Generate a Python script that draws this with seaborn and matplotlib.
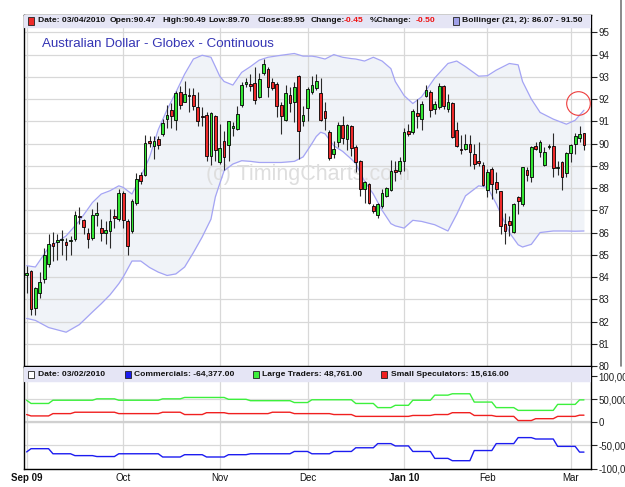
import numpy as np
import pandas as pd
import seaborn as sns
import matplotlib.pyplot as plt
from matplotlib.patches import Rectangle
from matplotlib.lines import Line2D

# daily bars, Australian Dollar (Globex), 01 Sep 2009 .. 04 Mar 2010
opens = [84.07, 84.29, 82.61, 83.29, 83.90, 84.58, 85.52, 85.59, 85.68, 85.59,
         85.62, 85.73, 86.72, 86.58, 85.98, 85.74, 86.79, 86.19, 85.98, 86.07,
         86.73, 86.60, 87.77, 86.52, 86.07, 87.33, 88.60, 88.60, 90.11, 89.91,
         90.19, 90.43, 91.10, 91.51, 91.07, 92.32, 91.88, 92.16, 92.19, 91.63,
         91.22, 91.30, 89.43, 91.22, 89.15, 90.11, 89.95, 90.72, 90.67, 91.73,
         92.70, 92.67, 92.71, 92.08, 93.15, 93.36, 92.76, 92.70, 91.73, 91.07,
         92.19, 91.88, 93.02, 91.01, 91.60, 92.32, 92.51, 92.29, 91.46, 90.51,
         89.51, 90.08, 90.83, 90.21, 90.78, 89.85, 89.23, 87.95, 88.16, 87.18,
         86.79, 87.20, 87.65, 87.91, 88.76, 88.75, 89.20, 90.57, 90.54, 91.36,
         91.10, 92.13, 92.32, 91.55, 91.63, 92.60, 91.55, 91.81, 90.63, 89.73,
         89.77, 89.97, 89.54, 89.23, 89.05, 87.92, 88.85, 88.25, 87.85, 86.37,
         86.52, 86.04, 87.61, 87.27, 88.81, 88.51, 89.88, 89.62, 89.05, 89.85,
         89.88, 88.90, 89.18, 88.67, 89.58, 90.00, 90.24, 90.47]
highs = [84.51, 84.32, 83.57, 84.22, 85.32, 85.92, 86.03, 85.92, 86.10, 85.77,
         85.85, 86.97, 87.15, 86.63, 86.22, 87.05, 87.39, 86.60, 86.52, 87.05,
         87.05, 87.95, 87.88, 86.60, 87.50, 88.66, 88.70, 90.40, 90.35, 90.35,
         90.35, 91.10, 91.73, 91.82, 92.37, 92.60, 92.83, 92.51, 92.51, 92.32,
         91.63, 91.40, 91.43, 91.28, 90.88, 90.56, 91.03, 90.95, 91.67, 92.79,
         92.95, 93.12, 93.42, 93.15, 93.80, 93.46, 92.95, 92.76, 91.85, 92.63,
         92.56, 92.79, 93.07, 91.70, 92.56, 93.03, 93.12, 92.95, 91.85, 90.60,
         90.13, 90.98, 91.22, 90.87, 90.83, 89.92, 89.26, 88.33, 88.21, 87.27,
         87.35, 87.95, 88.03, 89.26, 89.23, 89.38, 90.71, 90.90, 91.55, 92.00,
         91.93, 92.63, 92.40, 91.93, 92.71, 92.63, 92.24, 91.85, 90.98, 90.40,
         90.44, 90.40, 90.00, 90.08, 89.15, 88.85, 88.93, 88.70, 87.88, 86.90,
         86.75, 87.35, 87.65, 88.96, 88.96, 89.88, 90.08, 90.16, 89.85, 90.00,
         90.48, 89.20, 89.22, 89.62, 90.00, 90.48, 90.79, 90.49]
lows = [83.29, 82.31, 82.31, 83.07, 83.71, 84.43, 84.72, 84.77, 85.01, 84.75,
        85.01, 85.62, 86.37, 85.92, 85.29, 85.65, 86.30, 85.62, 85.47, 85.32,
        86.22, 86.52, 86.22, 84.99, 86.00, 87.24, 88.18, 88.55, 89.85, 89.31,
        89.77, 90.35, 90.71, 90.71, 90.63, 91.55, 91.85, 91.43, 91.52, 90.79,
        90.79, 89.23, 89.05, 89.23, 89.08, 88.81, 89.23, 90.32, 90.63, 91.63,
        92.56, 92.35, 91.78, 92.03, 93.10, 92.08, 92.40, 91.18, 90.44, 91.03,
        91.40, 90.95, 89.31, 90.79, 91.03, 92.24, 92.40, 91.03, 90.63, 89.26,
        89.35, 89.85, 90.00, 89.69, 89.46, 88.70, 87.65, 87.35, 87.27, 86.90,
        86.64, 87.12, 87.58, 87.88, 88.33, 88.63, 88.75, 90.32, 90.44, 90.71,
        90.63, 92.08, 91.18, 91.33, 91.55, 91.55, 91.40, 90.24, 89.85, 89.51,
        89.69, 89.00, 88.85, 89.00, 88.10, 87.58, 87.50, 87.76, 85.92, 85.47,
        85.85, 86.00, 86.82, 87.20, 88.33, 88.25, 89.69, 89.38, 89.00, 89.77,
        88.48, 88.60, 87.91, 88.48, 89.15, 89.54, 90.08, 89.70]
closes = [84.19, 82.57, 83.50, 83.79, 84.99, 85.47, 85.39, 85.67, 85.72, 85.44,
          85.65, 86.78, 86.70, 86.27, 85.73, 86.79, 86.88, 85.97, 86.10, 86.52,
          86.66, 87.77, 86.55, 85.41, 87.42, 88.40, 88.33, 90.02, 90.02, 90.11,
          89.95, 90.92, 91.30, 91.22, 92.27, 91.73, 92.24, 92.14, 91.70, 91.03,
          91.20, 89.46, 91.37, 89.69, 89.80, 89.38, 91.01, 90.75, 91.31, 92.62,
          92.72, 92.59, 91.96, 92.92, 93.56, 92.56, 92.48, 91.70, 91.22, 92.27,
          91.82, 92.56, 90.56, 91.28, 92.44, 92.63, 92.83, 91.07, 91.15, 89.35,
          89.75, 90.83, 90.24, 90.83, 89.82, 89.15, 87.95, 88.25, 87.35, 86.97,
          87.27, 87.76, 87.98, 88.78, 88.74, 89.20, 90.51, 90.44, 91.46, 91.22,
          91.78, 92.43, 91.52, 91.76, 92.57, 91.67, 91.88, 90.29, 89.89, 89.71,
          90.00, 89.62, 89.08, 89.11, 88.15, 88.73, 88.18, 87.95, 86.30, 86.07,
          86.34, 87.27, 87.42, 88.93, 88.60, 89.85, 89.77, 90.08, 89.62, 89.91,
          88.90, 88.95, 88.51, 89.57, 89.95, 90.32, 90.43, 89.95]

# Bollinger (21, 2) envelope at these bar numbers
band_idx = [0, 2, 5, 9, 12, 15, 17, 19, 21, 22, 24, 26, 28, 30, 32, 34, 36, 38,
            40, 42, 43, 44, 45, 47, 49, 51, 53, 55, 58, 61, 63, 65, 66, 67, 68,
            70, 72, 74, 75, 77, 79, 81, 83, 84, 86, 88, 90, 93, 96, 98, 100,
            103, 105, 107, 110, 112, 113, 115, 117, 120, 123, 125, 127]
band_upper = [84.51, 84.45, 85.32, 85.85, 86.52, 87.35, 87.73, 87.88, 88.10, 88.03,
              87.73, 88.50, 89.38, 90.63, 91.52, 92.30, 93.12, 93.80, 93.97, 93.88,
              93.46, 93.03, 92.79, 92.63, 93.20, 93.46, 93.75, 93.88, 93.97, 94.05,
              93.93, 93.93, 93.90, 93.85, 93.80, 94.00, 93.88, 93.82, 93.80, 93.71,
              93.88, 93.71, 93.37, 92.79, 92.16, 91.80, 92.10, 92.95, 93.60, 93.71,
              93.46, 93.03, 93.05, 93.30, 93.60, 93.54, 92.79, 92.00, 91.40, 91.10,
              90.87, 91.05, 91.50]
band_lower = [82.14, 82.05, 81.73, 81.52, 81.86, 82.43, 82.80, 83.20, 83.70, 84.00,
              84.72, 84.72, 84.43, 84.22, 84.07, 84.14, 84.45, 85.10, 85.80, 86.60,
              87.60, 88.20, 88.78, 89.08, 89.23, 89.20, 89.15, 89.15, 89.15, 89.20,
              89.40, 90.00, 90.32, 90.51, 90.44, 89.90, 89.65, 89.30, 89.10, 88.30,
              87.73, 87.00, 86.40, 86.30, 86.20, 86.55, 86.50, 86.35, 86.07, 86.82,
              87.65, 88.10, 88.03, 87.30, 86.00, 85.45, 85.35, 85.47, 86.00, 86.07,
              86.07, 86.06, 86.07]

# COT net positions, thousands of contracts, weekly reports 25 Aug 2009 .. 02 Mar 2010
cot_commercials = [-64, -57, -68, -72, -74, -68, -68, -75, -70, -75, -70, -68, -68, -63,
                   -68, -63, -55, -46, -51, -63, -78, -83, -61, -46, -33, -36, -52, -64.377]
cot_large = [48, 41, 48, 48, 51, 48, 48, 51, 54, 54, 50, 47, 47, 43,
             49, 49, 41, 32, 37, 48, 59, 62, 44, 32, 26, 26, 39, 48.761]
cot_small = [17, 14, 19, 22, 22, 19, 19, 22, 17, 21, 19, 19, 22, 19,
             19, 17, 13, 13, 13, 15, 17, 21, 15, 13, 4, 8, 13, 15.616]

month_labels = ["Sep 09", "Oct", "Nov", "Dec", "Jan 10", "Feb", "Mar"]
holidays = ["2009-11-26", "2009-12-25", "2010-01-01", "2010-01-18", "2010-02-15"]
circle_at = (125.6, 91.82)   # red ring drawn by the chart author

W, H = 625, 487


def fx(x):
    return x / W


def fy(y):
    return 1 - y / H


sns.set_style("white")
plt.rcParams["font.family"] = ["Liberation Sans", "DejaVu Sans"]

dates = pd.bdate_range("2009-09-01", "2010-03-04").drop(pd.to_datetime(holidays))
df = pd.DataFrame({"date": dates, "open": opens, "high": highs,
                   "low": lows, "close": closes})
df["idx"] = np.arange(len(df))
month_starts = df.groupby(df.date.dt.to_period("M")).idx.first().tolist()

# each COT figure is shown from the day after its Tuesday report
week = ((df.date - pd.Timestamp("2009-08-26")).dt.days // 7).to_numpy()
cot = pd.concat([
    pd.DataFrame({"idx": df.idx, "value": np.asarray(vals)[week] * 1000, "series": name})
    for name, vals in [("Commercials", cot_commercials),
                       ("Large Traders", cot_large),
                       ("Small Speculators", cot_small)]
])
bands = pd.DataFrame({"idx": band_idx, "upper": band_upper, "lower": band_lower})

fig = plt.figure(figsize=(W / 100, H / 100), dpi=100)
ax = fig.add_axes([fx(24), fy(366), fx(591) - fx(24), (366 - 15) / H])
ax2 = fig.add_axes([fx(24), fy(469), fx(591) - fx(24), (469 - 367) / H])

# ---- price panel
ax.set_axisbelow(True)
ax.fill_between(bands.idx, bands.lower, bands.upper, color="#f0f3f8", lw=0, zorder=0.3)
sns.lineplot(data=bands, x="idx", y="upper", ax=ax, color="#a4a4f4", lw=0.9, zorder=2)
sns.lineplot(data=bands, x="idx", y="lower", ax=ax, color="#a4a4f4", lw=0.9, zorder=2)

up = df.close >= df.open
ax.vlines(df.idx, df.low, df.high, color="#2a2a2a", lw=0.8, zorder=3)
ax.bar(df.idx, (df.close - df.open).abs().clip(lower=0.05),
       bottom=df[["open", "close"]].min(axis=1), width=0.62,
       color=np.where(up, "#33e633", "#ee2a2a"), edgecolor="black", lw=0.6, zorder=4)

ax.plot(*circle_at, marker="o", ms=17, mfc="none", mec="#ee3b3b", mew=0.8, zorder=6)

ax.set_xlim(-0.6, 128.6)
ax.set_ylim(80, 95.78)
ax.axhspan(95.24, 95.78, color="#e5e5f5", zorder=5)
ax.set_yticks(range(80, 96))
ax.set_xticks(month_starts)
ax.grid(True, color="#d8d8d8", lw=0.9)
ax.yaxis.tick_right()
ax.tick_params(axis="y", length=4, width=0.8, pad=1.5, labelsize=7, labelcolor="#222222")
ax.tick_params(axis="x", length=0, labelbottom=False)
ax.set_xlabel("")
ax.set_ylabel("")
for s in ax.spines.values():
    s.set_color("black")
    s.set_linewidth(1)

ax.text(0.5, 0.545, "(c) TimingCharts.com", transform=ax.transAxes, ha="center",
        va="center", fontsize=15.5, color="#dedede", zorder=0.6)
fig.text(fx(42), fy(44), "Australian Dollar - Globex - Continuous", fontsize=9.6,
         color="#3434b4", va="center")

# ---- COT panel
ax2.set_axisbelow(True)
sns.lineplot(data=cot, x="idx", y="value", hue="series", ax=ax2, legend=False, lw=1,
             palette={"Commercials": "#1c1cf0", "Large Traders": "#3cf03c",
                      "Small Speculators": "#f02020"}, zorder=3)
ax2.set_xlim(-0.6, 128.6)
ax2.set_ylim(-101000, 120000)
ax2.axhspan(89000, 120000, color="#e5e5f5", zorder=5)
ax2.axhline(0, color="#d0d0d0", lw=1.6, zorder=0.6)
ax2.set_yticks([-100000, -50000, 0, 50000, 100000])
ax2.set_yticklabels(["-100,000", "-50,000", "0", "50,000", "100,000"])
ax2.set_xticks(month_starts)
ax2.set_xticklabels(month_labels)
for t in ax2.get_xticklabels():
    if " " in t.get_text():
        t.set_fontweight("bold")
ax2.grid(True, color="#d8d8d8", lw=0.9)
ax2.yaxis.tick_right()
ax2.tick_params(axis="y", length=4, width=0.8, pad=1.5, labelsize=7, labelcolor="#222222")
ax2.tick_params(axis="x", length=0, pad=3, labelsize=7, labelcolor="#111111")
ax2.set_xlabel("")
ax2.set_ylabel("")
for s in ax2.spines.values():
    s.set_color("black")
    s.set_linewidth(1)

# ---- header strips
hdr = dict(fontsize=6.1, fontweight="bold", va="center", color="#111111")


def swatch(x, y, color):
    fig.add_artist(Rectangle((fx(x), fy(y + 3.5)), 6 / W, 7 / H, transform=fig.transFigure,
                             facecolor=color, edgecolor="#222222", lw=0.6, zorder=10))


swatch(28, 21, "#ee2a2a")
for x, txt, col in [(38, "Date: 03/04/2010", "#111111"), (110, "Open:90.47", "#111111"),
                    (162, "High:90.49", "#111111"), (208, "Low:89.70", "#111111"),
                    (258, "Close:89.95", "#111111"), (311, "Change:", "#111111"),
                    (344, "-0.45", "#ee1111"), (370, "%Change:", "#111111"),
                    (416, "-0.50", "#ee1111"),
                    (462, "Bollinger (21, 2): 86.07 - 91.50", "#111111")]:
    fig.text(fx(x), fy(21), txt, **{**hdr, "color": col})
swatch(453, 21, "#a0a0e8")

swatch(28, 374, "white")
fig.text(fx(38), fy(374), "Date: 03/02/2010", **hdr)
swatch(125, 374, "#1c1cf0")
fig.text(fx(134), fy(374), "Commercials: -64,377.00", **hdr)
swatch(253, 374, "#3cf03c")
fig.text(fx(262), fy(374), "Large Traders: 48,761.00", **hdr)
swatch(381, 374, "#f02020")
fig.text(fx(391), fy(374), "Small Speculators: 15,616.00", **hdr)

fig.add_artist(Line2D([fx(621), fx(621)], [1, fy(366)], transform=fig.transFigure,
                      color="#777777", lw=1.2))

fig.savefig("out.png", dpi=100)
